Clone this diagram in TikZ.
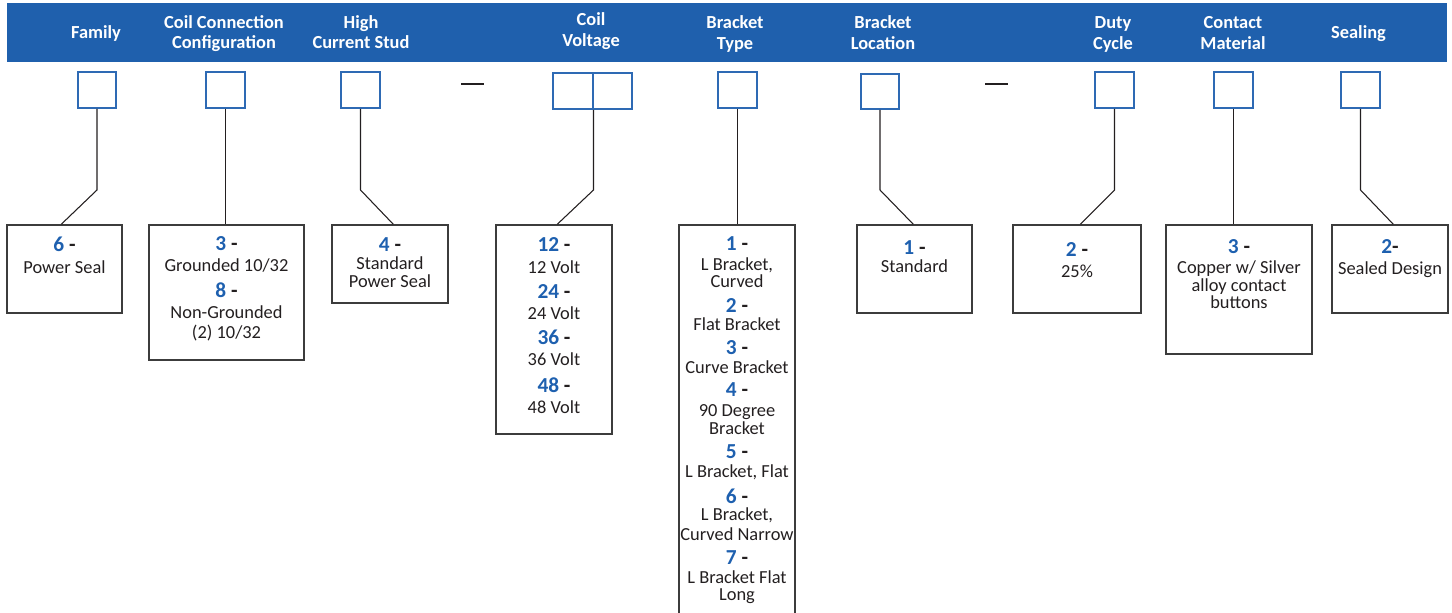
\documentclass[tikz,border=0pt]{standalone}
\usepackage{fontspec}
\setmainfont{Carlito}
\usetikzlibrary{fit,calc}
\definecolor{hdrblue}{RGB}{31,96,173}
\definecolor{numblue}{RGB}{30,96,175}
\definecolor{sqblue}{RGB}{46,106,180}
\definecolor{boxgray}{RGB}{60,60,60}
\definecolor{txt}{RGB}{35,31,32}
\begin{document}
\begin{tikzpicture}[x=0.75pt,y=-0.75pt,
 sq/.style={draw=sqblue, line width=1.5pt, inner sep=0pt, fill=white},
 obox/.style={draw=boxgray, line width=1.1pt, inner sep=0pt},
 conn/.style={draw=txt, line width=0.8pt},
 hd/.style={text=white, font=\fontsize{13.8}{16}\selectfont\bfseries, anchor=base, inner sep=0pt},
 tx/.style={text=txt, font=\fontsize{13.8}{16}\selectfont, anchor=base, inner sep=0pt},
 nm/.style={text=txt, font=\fontsize{16}{18}\selectfont\bfseries, anchor=base, inner sep=0pt},
 dashline/.style={draw=txt, line width=1.5pt},
]
\useasboundingbox (0,0) rectangle (1452,613);
\clip (0,0) rectangle (1452,613);
% header band
\node[fill=hdrblue, inner sep=0pt, fit={(7,3) (1447,62)}] (band) {};
\node[hd] (h1) at (96,39) {Family};
\node[hd] (h2a) at (224,29) {Coil Connection};
\node[hd] (h2b) at (224,49) {Configuration};
\node[hd] (h3a) at (361,29) {High};
\node[hd] (h3b) at (361,49) {Current Stud};
\node[hd] (h4a) at (591,26) {Coil};
\node[hd] (h4b) at (591,47) {Voltage};
\node[hd] (h5a) at (735,29) {Bracket};
\node[hd] (h5b) at (735,50) {Type};
\node[hd] (h6a) at (883,29) {Bracket};
\node[hd] (h6b) at (883,50) {Location};
\node[hd] (h7a) at (1113,29) {Duty};
\node[hd] (h7b) at (1113,50) {Cycle};
\node[hd] (h8a) at (1233,29) {Contact};
\node[hd] (h8b) at (1233,50) {Material};
\node[hd] (h9) at (1358.5,39) {Sealing};
% small squares
\node[sq, fit={(78,72) (116,108)}] (sfam) {};
\node[sq, fit={(206,72) (245,108)}] (scoil) {};
\node[sq, fit={(341,72) (380,108)}] (shc) {};
\node[sq, fit={(553,73) (592.5,109)}] (scva) {};
\node[sq, fit={(592.5,73) (632,109)}] (scvb) {};
\node[sq, fit={(718,72) (757,108)}] (sbt) {};
\node[sq, fit={(861,74) (899,109)}] (sbl) {};
\node[sq, fit={(1095,72) (1134,108)}] (sdc) {};
\node[sq, fit={(1214,72) (1253,108)}] (scm) {};
\node[sq, fit={(1341,72) (1380,108)}] (sseal) {};
% dashes
\coordinate (d1a) at (461,84); \coordinate (d1b) at (484,84);
\coordinate (d2a) at (985,84); \coordinate (d2b) at (1008,84);
\draw[dashline] (d1a) -- (d1b);
\draw[dashline] (d2a) -- (d2b);
% option boxes
\node[obox, fit={(7,225) (122,313)}] (bfam) {};
\node[obox, fit={(149,225) (304,360)}] (bcoil) {};
\node[obox, fit={(332,225) (448,303)}] (bhc) {};
\node[obox, fit={(496,225) (612,434)}] (bcv) {};
\node[obox, fit={(679,225) (795,630)}] (bbt) {};
\node[obox, fit={(857,225) (972,313)}] (bbl) {};
\node[obox, fit={(1013,225) (1141,313)}] (bdc) {};
\node[obox, fit={(1166,225) (1312,354)}] (bcm) {};
\node[obox, fit={(1332,225) (1448,313)}] (bseal) {};
% connectors
\draw[conn] (sfam.south) -- ++(0,81) -- ($(bfam.north west)+(55,0)$);
\draw[conn] (scoil.south) -- (scoil.south |- bcoil.north);
\draw[conn] (shc.south) -- ++(0,81) -- ($(bhc.north west)+(62,0)$);
\draw[conn] (scva.south east) -- ++(0,80) -- ($(bcv.north west)+(62,0)$);
\draw[conn] (sbt.south) -- (sbt.south |- bbt.north);
\draw[conn] (sbl.south) -- ++(0,80) -- ($(bbl.north west)+(57,0)$);
\draw[conn] (sdc.south) -- ++(0,81) -- ($(bdc.north west)+(68,0)$);
\draw[conn] (scm.south) -- (scm.south |- bcm.north);
\draw[conn] (sseal.south) -- ++(0,81) -- ($(bseal.north west)+(62,0)$);
% texts: Family
\node[nm] (fam-n1) at (64.5,251) {\textcolor{numblue}{6} -};
\node[tx] (fam-t1) at (64.5,273) {Power Seal};
% Coil connection
\node[nm] (coil-n1) at (226.5,250) {\textcolor{numblue}{3} -};
\node[tx] (coil-t1) at (226.5,271) {Grounded 10/32};
\node[nm] (coil-n2) at (226.5,297) {\textcolor{numblue}{8} -};
\node[tx] (coil-t2) at (226.5,318) {Non-Grounded};
\node[tx] (coil-t3) at (226.5,338) {(2) 10/32};
% High current
\node[nm] (hc-n1) at (390,251) {\textcolor{numblue}{4} -};
\node[tx] (hc-t1) at (390,269) {Standard};
\node[tx] (hc-t2) at (390,287) {Power Seal};
% Coil voltage
\node[nm] (cv-n1) at (554,251) {\textcolor{numblue}{12} -};
\node[tx] (cv-t1) at (554,273) {12 Volt};
\node[nm] (cv-n2) at (554,298) {\textcolor{numblue}{24} -};
\node[tx] (cv-t2) at (554,319) {24 Volt};
\node[nm] (cv-n3) at (554,344) {\textcolor{numblue}{36} -};
\node[tx] (cv-t3) at (554,365) {36 Volt};
\node[nm] (cv-n4) at (554,392) {\textcolor{numblue}{48} -};
\node[tx] (cv-t4) at (554,413) {48 Volt};
% Bracket type
\node[nm] (bt-n1) at (737,250) {\textcolor{numblue}{1} -};
\node[tx] (bt-t1a) at (737,270) {L Bracket,};
\node[tx] (bt-t1b) at (737,287) {Curved};
\node[nm] (bt-n2) at (737,312) {\textcolor{numblue}{2} -};
\node[tx] (bt-t2) at (737,330) {Flat Bracket};
\node[nm] (bt-n3) at (737,354) {\textcolor{numblue}{3} -};
\node[tx] (bt-t3) at (737,373) {Curve Bracket};
\node[nm] (bt-n4) at (737,396) {\textcolor{numblue}{4} -};
\node[tx] (bt-t4a) at (737,416) {90 Degree};
\node[tx] (bt-t4b) at (737,434) {Bracket};
\node[nm] (bt-n5) at (737,458) {\textcolor{numblue}{5} -};
\node[tx] (bt-t5) at (737,477) {L Bracket, Flat};
\node[nm] (bt-n6) at (737,503) {\textcolor{numblue}{6} -};
\node[tx] (bt-t6a) at (737,520) {L Bracket,};
\node[tx] (bt-t6b) at (737,540) {Curved Narrow};
\node[nm] (bt-n7) at (737,564) {\textcolor{numblue}{7} -};
\node[tx] (bt-t7a) at (737,583) {L Bracket Flat};
\node[tx] (bt-t7b) at (737,600) {Long};
% Bracket location
\node[nm] (bl-n1) at (914.5,254) {\textcolor{numblue}{1} -};
\node[tx] (bl-t1) at (914.5,272) {Standard};
% Duty cycle
\node[nm] (dc-n1) at (1077,256) {\textcolor{numblue}{2} -};
\node[tx] (dc-t1) at (1077,277) {25\%};
% Contact material
\node[nm] (cm-n1) at (1239,253) {\textcolor{numblue}{3} -};
\node[tx] (cm-t1) at (1239,273) {Copper w/ Silver};
\node[tx] (cm-t2) at (1239,291) {alloy contact};
\node[tx] (cm-t3) at (1239,308) {buttons};
% Sealing
\node[nm] (se-n1) at (1390,253) {\textcolor{numblue}{2}-};
\node[tx] (se-t1) at (1390,274) {Sealed Design};
\end{tikzpicture}
\end{document}
